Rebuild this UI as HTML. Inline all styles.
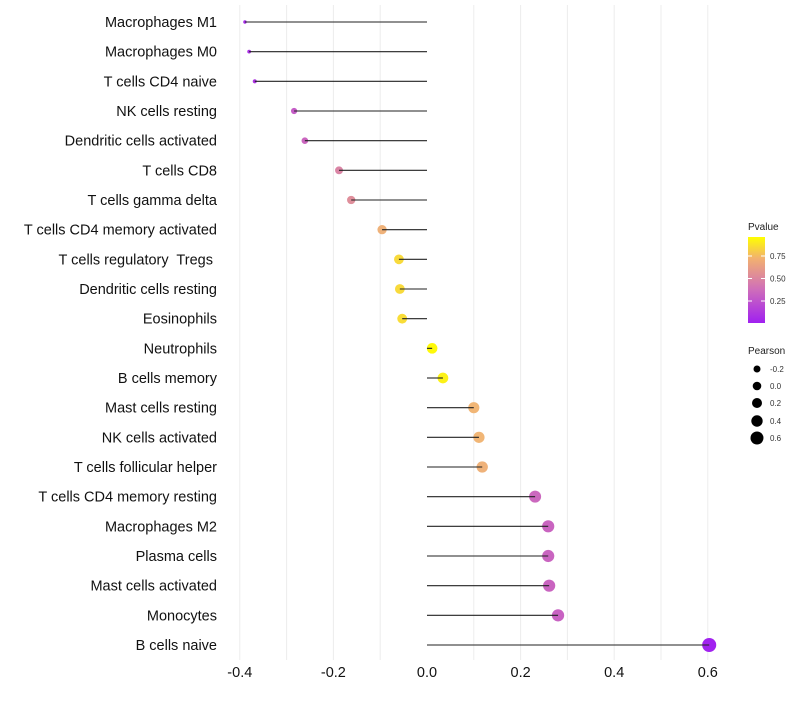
<!DOCTYPE html>
<html><head><meta charset="utf-8"><style>
body{margin:0;background:#fff;font-family:"Liberation Sans",sans-serif;}
</style></head><body>
<svg id="chart" width="800" height="700" xmlns="http://www.w3.org/2000/svg" font-family="Liberation Sans, sans-serif">
<g id="grid"></g><g id="dots"></g><g id="marks"></g><g id="ylabels"></g><g id="xticks"></g>
<g id="legend">
<text x="748" y="230" font-size="10" fill="#222">Pvalue</text>
<defs><linearGradient id="cg" x1="0" y1="1" x2="0" y2="0">
<stop offset="0" stop-color="#a020f0"/><stop offset="0.4" stop-color="#d070b8"/><stop offset="0.75" stop-color="#f2b070"/><stop offset="1" stop-color="#ffff00"/></linearGradient></defs>
<rect x="748" y="237" width="17" height="86" fill="url(#cg)"/>
<line x1="748" x2="752" y1="256" y2="256" stroke="#fff"/><line x1="761" x2="765" y1="256" y2="256" stroke="#fff"/>
<line x1="748" x2="752" y1="278.5" y2="278.5" stroke="#fff"/><line x1="761" x2="765" y1="278.5" y2="278.5" stroke="#fff"/>
<line x1="748" x2="752" y1="301" y2="301" stroke="#fff"/><line x1="761" x2="765" y1="301" y2="301" stroke="#fff"/>
<text x="770" y="259" font-size="8" fill="#333">0.75</text>
<text x="770" y="281.5" font-size="8" fill="#333">0.50</text>
<text x="770" y="304" font-size="8" fill="#333">0.25</text>
<text x="748" y="354" font-size="10" fill="#222">Pearson</text>
<circle cx="757" cy="369" r="3.5" fill="#000"/><text x="770" y="372" font-size="8" fill="#333">-0.2</text>
<circle cx="757" cy="386" r="4.3" fill="#000"/><text x="770" y="389" font-size="8" fill="#333">0.0</text>
<circle cx="757" cy="403" r="5" fill="#000"/><text x="770" y="406" font-size="8" fill="#333">0.2</text>
<circle cx="757" cy="421" r="5.7" fill="#000"/><text x="770" y="424" font-size="8" fill="#333">0.4</text>
<circle cx="757" cy="438" r="6.5" fill="#000"/><text x="770" y="441" font-size="8" fill="#333">0.6</text>
</g>
</svg>
<script>
const categories=["Macrophages M1","Macrophages M0","T cells CD4 naive","NK cells resting","Dendritic cells activated","T cells CD8","T cells gamma delta","T cells CD4 memory activated","T cells regulatory  Tregs ","Dendritic cells resting","Eosinophils","Neutrophils","B cells memory","Mast cells resting","NK cells activated","T cells follicular helper","T cells CD4 memory resting","Macrophages M2","Plasma cells","Mast cells activated","Monocytes","B cells naive"];
const pearson=[-0.389,-0.380,-0.368,-0.284,-0.261,-0.188,-0.162,-0.096,-0.060,-0.058,-0.053,0.011,0.034,0.100,0.111,0.118,0.231,0.259,0.259,0.261,0.280,0.603];
const pvalue=[0.05,0.08,0.1,0.3,0.35,0.5,0.55,0.72,0.87,0.87,0.88,0.98,0.95,0.74,0.74,0.72,0.36,0.34,0.34,0.34,0.33,0.01];
const xTicks=[-0.4,-0.2,0.0,0.2,0.4,0.6];
const xGrid=[-0.4,-0.3,-0.2,-0.1,0.1,0.2,0.3,0.4,0.5,0.6];
const NS="http://www.w3.org/2000/svg";
const xS=v=>427+v*468;
const yS=i=>22+i*(623/21);
const rS=v=>Math.sqrt(v<0.01?2.9+63*(v+0.39):28+36*(v-0.01));
function lerp(a,b,t){return a.map((x,i)=>Math.round(x+(b[i]-x)*t));}
function col(p){const st=[[0,[160,32,240]],[0.4,[208,112,184]],[0.75,[242,184,116]],[1,[255,255,0]]];
 for(let i=1;i<st.length;i++){if(p<=st[i][0]){const t=(p-st[i-1][0])/(st[i][0]-st[i-1][0]);const c=lerp(st[i-1][1],st[i][1],t);return `rgb(${c})`;}}return "rgb(255,255,0)";}
function mk(t,a,p){const e=document.createElementNS(NS,t);for(const k in a)e.setAttribute(k,a[k]);document.getElementById(p).appendChild(e);return e;}
xGrid.forEach(v=>{const l=mk("line",{x1:xS(v),x2:xS(v),y1:5,y2:660,stroke:"#ececec","stroke-width":1},"grid");

});
categories.forEach((c,i)=>{const y=yS(i);
 const d=mk("circle",{cx:xS(pearson[i]),cy:y,r:rS(pearson[i]),fill:col(pvalue[i])},"dots");
 
 
 const ln=mk("line",{x1:xS(0),x2:xS(pearson[i]),y1:y,y2:y,stroke:"#222","stroke-width":1.1},"marks");
 
 
 const t=mk("text",{x:217,y:y+5,"text-anchor":"end","font-size":14.5,fill:"#111"},"ylabels");t.textContent=c;
 t.setAttribute('xml:space','preserve');t.style.whiteSpace='pre';
 
 });
xTicks.forEach(v=>{const t=mk("text",{x:xS(v),y:677,"text-anchor":"middle","font-size":14.5,fill:"#111"},"xticks");t.textContent=v.toFixed(1);

});
</script>
</body></html>
